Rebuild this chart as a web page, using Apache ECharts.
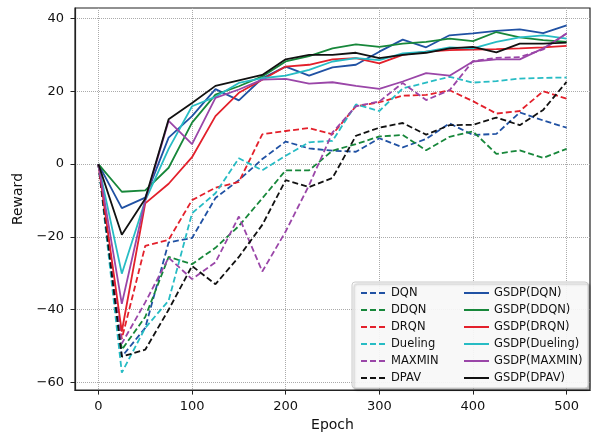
<!DOCTYPE html>
<html>
<head>
<meta charset="utf-8">
<script src="https://cdn.jsdelivr.net/npm/echarts@6/dist/echarts.min.js"></script>
<style>
  html, body { margin: 0; padding: 0; background: #fff; }
  #main { width: 591px; height: 437px; }
</style>
</head>
<body>
<div id="main"></div>
<script>
const epochs = [0, 25, 50, 75, 100, 125, 150, 175, 200, 225, 250, 275, 300, 325, 350, 375, 400, 425, 450, 475, 500]

// baselines (dashed)
const dqn = [0, -52.9, -45, -21.5, -20.3, -9.3, -4.4, 1.4, 6.2, 4.3, 3.7, 3.4, 7.1, 4.6, 6.9, 11.2, 8, 8.3, 14.2, 12, 10]
const ddqn = [0, -51, -42, -25.5, -27.5, -23, -17, -9.4, -1.7, -1.7, 3.7, 5.5, 7.6, 8, 3.8, 7.5, 9, 2.8, 3.8, 1.7, 4.2]
const drqn = [0, -48, -22.5, -20.8, -9.9, -6.5, -4.9, 8.2, 9.1, 9.9, 8.2, 15.9, 17, 18.8, 19, 20.3, 17.3, 13.9, 14.6, 20, 18]
const dueling = [0, -57.3, -45, -37.5, -13.5, -8, 1.6, -1.7, 2.3, 6, 6.4, 16.4, 14.6, 20.8, 22.4, 24, 22.4, 22.8, 23.5, 23.7, 23.8]
const maxmin = [0, -49.3, -38, -25.7, -31.6, -27, -14.4, -29.5, -18.5, -5.8, 8.7, 15.9, 17.2, 22.3, 17.6, 20.3, 28.3, 29.2, 29.4, 31.5, 35.9]
const dpav = [0, -52.9, -51, -40, -28, -33, -25.5, -16.7, -4.4, -6.3, -3.8, 7.8, 10, 11.3, 8.1, 10.7, 10.8, 12.8, 10.7, 14.9, 22.6]

// GSDP versions (solid)
const gsdpDqn = [0, -12.1, -9.2, 7.3, 13.2, 20.6, 17.5, 23.6, 26.8, 24.3, 26.6, 27.3, 30.9, 34.2, 32.1, 35.4, 35.9, 36.6, 37, 36, 38.1]
const gsdpDdqn = [0, -7.6, -7.2, -1, 11.4, 19.1, 21.4, 24.1, 28.2, 29.7, 31.8, 32.9, 32.2, 33.1, 33.6, 34.5, 33.8, 36.3, 34.8, 34.1, 33.6]
const gsdpDrqn = [0, -46, -10.8, -5.4, 1.9, 13.2, 19.6, 23.2, 26.8, 27.3, 28.8, 29.1, 27.7, 30, 30.9, 31.3, 31.5, 31.6, 31.8, 32.1, 32.5]
const gsdpDueling = [0, -30.1, -10, 4.2, 15.9, 18.5, 22.3, 23.6, 24.3, 25.9, 28.2, 29.1, 28.6, 30.4, 30.9, 32.1, 31.8, 33.6, 34.8, 35.4, 34.5]
const gsdpMaxmin = [0, -38.4, -10, 11.9, 5.5, 18.2, 20.5, 23.2, 23.4, 22.1, 22.5, 21.5, 20.7, 22.7, 25, 24.3, 28.2, 28.8, 28.8, 31.8, 35.9]
const gsdpDpav = [0, -19.4, -9.5, 12.3, 16.8, 21.5, 23, 24.5, 28.8, 30, 30, 30.6, 29.1, 30, 30.6, 31.8, 32.2, 30.7, 33.1, 33.1, 33.4]

const xTicks = [0, 100, 200, 300, 400, 500]
const yTicks = [-60, -40, -20, 0, 20, 40]

const colors = {
  blue: '#2051a3',
  green: '#17873a',
  red: '#e3202b',
  cyan: '#27bcc4',
  purple: '#9a46a8',
  black: '#111111'
}

const baseNames = ['DQN', 'DDQN', 'DRQN', 'Dueling', 'MAXMIN', 'DPAV']
const gsdpNames = ['GSDP(DQN)', 'GSDP(DDQN)', 'GSDP(DRQN)', 'GSDP(Dueling)', 'GSDP(MAXMIN)', 'GSDP(DPAV)']
const baseData = [dqn, ddqn, drqn, dueling, maxmin, dpav]
const gsdpData = [gsdpDqn, gsdpDdqn, gsdpDrqn, gsdpDueling, gsdpMaxmin, gsdpDpav]
const lineColors = [colors.blue, colors.green, colors.red, colors.cyan, colors.purple, colors.black]

const font = 'DejaVu Sans'

const makeSeries = (name, values, color, dashed) => ({
  name: name,
  type: 'line',
  data: epochs.map((e, i) => [e, values[i]]),
  symbol: 'none',
  color: color,
  lineStyle: {
    width: 1.8,
    color: color,
    type: dashed ? [6, 3] : 'solid'
  },
  z: dashed ? 2 : 3
})

const series = []
baseNames.forEach((n, i) => series.push(makeSeries(n, baseData[i], lineColors[i], true)))
gsdpNames.forEach((n, i) => series.push(makeSeries(n, gsdpData[i], lineColors[i], false)))

const legendCommon = {
  orient: 'vertical',
  top: 281,
  itemWidth: 25,
  itemHeight: 10,
  itemGap: 3,
  z: 6,
  // line series draw a circle in the legend when symbol is none, hide it
  itemStyle: { opacity: 0 },
  textStyle: {
    fontFamily: font,
    fontSize: 11.5,
    color: '#111',
    lineHeight: 14
  }
}

const chart = echarts.init(document.getElementById('main'))
chart.setOption({
  animation: false,
  grid: {
    left: 75,
    right: 1,
    top: 8,
    bottom: 44,
    show: true,
    borderColor: '#222',
    borderWidth: 1.2
  },
  legend: [
    Object.assign({ left: 355, data: baseNames }, legendCommon),
    Object.assign({ left: 458, data: gsdpNames }, legendCommon)
  ],
  graphic: [{
    type: 'rect',
    z: 5,
    shape: { x: 352, y: 282, width: 236, height: 106, r: 3 },
    style: {
      fill: 'rgba(255,255,255,0.9)',
      stroke: '#cccccc',
      lineWidth: 1,
      shadowColor: 'rgba(0,0,0,0.3)',
      shadowBlur: 2,
      shadowOffsetX: 2,
      shadowOffsetY: 2
    }
  }],
  xAxis: {
    type: 'value',
    min: -25,
    max: 525,
    name: 'Epoch',
    nameLocation: 'middle',
    nameGap: 27,
    nameTextStyle: { fontFamily: font, fontSize: 14, color: '#111' },
    axisLine: { show: true, onZero: false, lineStyle: { color: '#222', width: 1.2 } },
    axisTick: { show: true, inside: false, length: 4.5, customValues: xTicks, lineStyle: { color: '#222' } },
    axisLabel: { customValues: xTicks, margin: 10, fontFamily: font, fontSize: 13, color: '#111' },
    splitLine: { show: true, lineStyle: { type: 'dotted', color: '#aaaaaa', width: 1 } }
  },
  yAxis: {
    type: 'value',
    min: -62.1,
    max: 42.9,
    name: 'Reward',
    nameLocation: 'middle',
    nameGap: 46,
    nameTextStyle: { fontFamily: font, fontSize: 14, color: '#111' },
    axisLine: { show: true, onZero: false, lineStyle: { color: '#222', width: 1.2 } },
    axisTick: { show: true, inside: false, length: 4.5, customValues: yTicks, lineStyle: { color: '#222' } },
    axisLabel: {
      customValues: yTicks,
      margin: 11,
      fontFamily: font,
      fontSize: 13,
      color: '#111',
      formatter: v => (v < 0 ? '\u2212' + Math.abs(v) : String(v))
    },
    splitLine: { show: true, lineStyle: { type: 'dotted', color: '#aaaaaa', width: 1 } }
  },
  series: series
})
</script>
</body>
</html>
